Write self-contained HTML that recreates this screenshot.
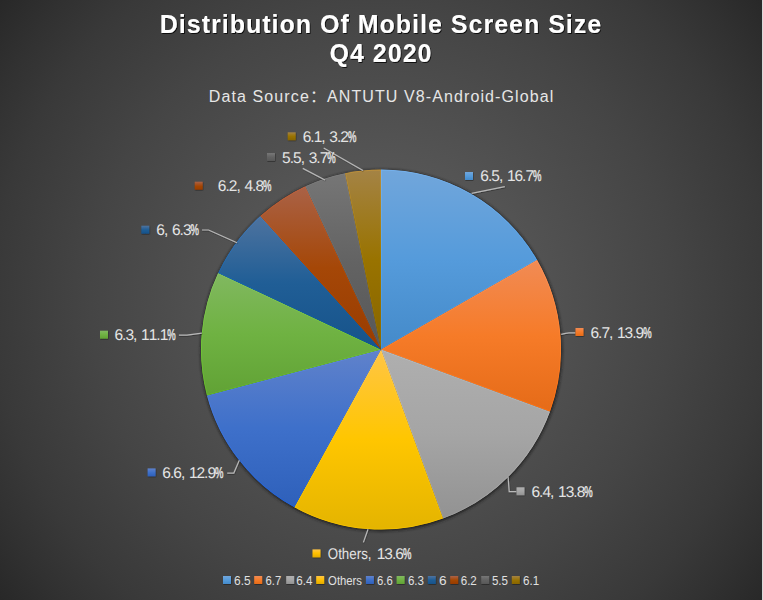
<!DOCTYPE html>
<html><head><meta charset="utf-8"><style>
html,body{margin:0;padding:0;background:#2b2b2b;}
body{width:763px;height:600px;overflow:hidden;position:relative;}
svg{position:absolute;left:0;top:0;display:block;}
.t{font-family:"Liberation Sans",Arial,sans-serif;font-weight:bold;font-size:25px;fill:#FFFFFF;letter-spacing:1.0px;}
.st{font-family:"Liberation Sans","Noto Sans CJK SC",sans-serif;font-size:16px;fill:#E6E6E6;letter-spacing:1.1px;}
.dl{font-family:"Liberation Sans",Arial,sans-serif;font-size:15.5px;text-rendering:geometricPrecision;fill:#E4E4E4;}
.pc{stroke:#E4E4E4;stroke-width:0.45px;}
.lg{font-family:"Liberation Sans",Arial,sans-serif;font-size:12px;fill:#E0E0E0;}
</style></head><body>
<svg width="763" height="600" viewBox="0 0 763 600">
<defs>
<radialGradient id="bg" gradientUnits="userSpaceOnUse" cx="381.5" cy="300" r="485">
<stop offset="0.0" stop-color="#606060"/><stop offset="0.1" stop-color="#5C5C5C"/><stop offset="0.2" stop-color="#585858"/><stop offset="0.3" stop-color="#545454"/><stop offset="0.4" stop-color="#4F4F4F"/><stop offset="0.5" stop-color="#4A4A4A"/><stop offset="0.6" stop-color="#454545"/><stop offset="0.7" stop-color="#3F3F3F"/><stop offset="0.8" stop-color="#393939"/><stop offset="0.9" stop-color="#313131"/><stop offset="1.0" stop-color="#282828"/>
</radialGradient>
<filter id="lsh" x="-20%" y="-20%" width="140%" height="140%"><feDropShadow dx="0.4" dy="0.6" stdDeviation="0.7" flood-color="#000" flood-opacity="0.55"/></filter>
<filter id="sh" x="-20%" y="-20%" width="140%" height="140%"><feGaussianBlur stdDeviation="1.5"/></filter>
<filter id="tsh" x="-5%" y="-20%" width="110%" height="140%"><feDropShadow dx="0.9" dy="1" stdDeviation="0.7" flood-color="#000" flood-opacity="0.8"/></filter>
<linearGradient id="g0" gradientUnits="userSpaceOnUse" x1="0" y1="169.6" x2="0" y2="349.6"><stop offset="0" stop-color="#71A6DB"/><stop offset="0.5" stop-color="#559BDB"/><stop offset="1" stop-color="#448AC9"/></linearGradient><linearGradient id="r0" gradientUnits="userSpaceOnUse" x1="0" y1="169.6" x2="0" y2="349.6"><stop offset="0" stop-color="#75B0EB"/><stop offset="0.5" stop-color="#55A5EE"/><stop offset="1" stop-color="#4193DC"/></linearGradient><clipPath id="c0"><path d="M381,349.6 L381.00,169.60 A180,180 0 0 1 537.07,259.93 Z"/></clipPath><linearGradient id="g1" gradientUnits="userSpaceOnUse" x1="0" y1="259.9" x2="0" y2="411.6"><stop offset="0" stop-color="#F18B55"/><stop offset="0.5" stop-color="#F67B28"/><stop offset="1" stop-color="#E56B18"/></linearGradient><linearGradient id="r1" gradientUnits="userSpaceOnUse" x1="0" y1="259.9" x2="0" y2="411.6"><stop offset="0" stop-color="#FF945B"/><stop offset="0.5" stop-color="#FF8330"/><stop offset="1" stop-color="#FF6F0D"/></linearGradient><clipPath id="c1"><path d="M381,349.6 L537.07,259.93 A180,180 0 0 1 549.97,411.64 Z"/></clipPath><linearGradient id="g2" gradientUnits="userSpaceOnUse" x1="0" y1="349.6" x2="0" y2="518.6"><stop offset="0" stop-color="#AFAFAF"/><stop offset="0.5" stop-color="#A5A5A5"/><stop offset="1" stop-color="#929292"/></linearGradient><linearGradient id="r2" gradientUnits="userSpaceOnUse" x1="0" y1="349.6" x2="0" y2="518.6"><stop offset="0" stop-color="#BABABA"/><stop offset="0.5" stop-color="#AFAFAF"/><stop offset="1" stop-color="#9B9B9B"/></linearGradient><clipPath id="c2"><path d="M381,349.6 L549.97,411.64 A180,180 0 0 1 443.04,518.57 Z"/></clipPath><linearGradient id="g3" gradientUnits="userSpaceOnUse" x1="0" y1="349.6" x2="0" y2="529.6"><stop offset="0" stop-color="#FFC546"/><stop offset="0.5" stop-color="#FFC600"/><stop offset="1" stop-color="#E4B400"/></linearGradient><linearGradient id="r3" gradientUnits="userSpaceOnUse" x1="0" y1="349.6" x2="0" y2="529.6"><stop offset="0" stop-color="#FFCB5A"/><stop offset="0.5" stop-color="#FFC90F"/><stop offset="1" stop-color="#F2BF00"/></linearGradient><clipPath id="c3"><path d="M381,349.6 L443.04,518.57 A180,180 0 0 1 294.28,507.34 Z"/></clipPath><linearGradient id="g4" gradientUnits="userSpaceOnUse" x1="0" y1="349.6" x2="0" y2="507.3"><stop offset="0" stop-color="#6082CB"/><stop offset="0.5" stop-color="#3E70CA"/><stop offset="1" stop-color="#2E60BA"/></linearGradient><linearGradient id="r4" gradientUnits="userSpaceOnUse" x1="0" y1="349.6" x2="0" y2="507.3"><stop offset="0" stop-color="#6288DB"/><stop offset="0.5" stop-color="#3B75DD"/><stop offset="1" stop-color="#1E60D8"/></linearGradient><clipPath id="c4"><path d="M381,349.6 L294.28,507.34 A180,180 0 0 1 206.94,395.46 Z"/></clipPath><linearGradient id="g5" gradientUnits="userSpaceOnUse" x1="0" y1="273.0" x2="0" y2="395.5"><stop offset="0" stop-color="#81B860"/><stop offset="0.5" stop-color="#6FB242"/><stop offset="1" stop-color="#61A235"/></linearGradient><linearGradient id="r5" gradientUnits="userSpaceOnUse" x1="0" y1="273.0" x2="0" y2="395.5"><stop offset="0" stop-color="#87C761"/><stop offset="0.5" stop-color="#73C939"/><stop offset="1" stop-color="#64BB29"/></linearGradient><clipPath id="c5"><path d="M381,349.6 L206.94,395.46 A180,180 0 0 1 218.13,272.96 Z"/></clipPath><linearGradient id="g6" gradientUnits="userSpaceOnUse" x1="0" y1="216.1" x2="0" y2="349.6"><stop offset="0" stop-color="#4E739F"/><stop offset="0.5" stop-color="#205E96"/><stop offset="1" stop-color="#16538A"/></linearGradient><linearGradient id="r6" gradientUnits="userSpaceOnUse" x1="0" y1="216.1" x2="0" y2="349.6"><stop offset="0" stop-color="#4879B3"/><stop offset="0.5" stop-color="#1265AF"/><stop offset="1" stop-color="#0859A1"/></linearGradient><clipPath id="c6"><path d="M381,349.6 L218.13,272.96 A180,180 0 0 1 260.28,216.09 Z"/></clipPath><linearGradient id="g7" gradientUnits="userSpaceOnUse" x1="0" y1="186.3" x2="0" y2="349.6"><stop offset="0" stop-color="#AA6247"/><stop offset="0.5" stop-color="#A54707"/><stop offset="1" stop-color="#983C00"/></linearGradient><linearGradient id="r7" gradientUnits="userSpaceOnUse" x1="0" y1="186.3" x2="0" y2="349.6"><stop offset="0" stop-color="#C1623F"/><stop offset="0.5" stop-color="#B64A00"/><stop offset="1" stop-color="#A14000"/></linearGradient><clipPath id="c7"><path d="M381,349.6 L260.28,216.09 A180,180 0 0 1 305.38,186.25 Z"/></clipPath><linearGradient id="g8" gradientUnits="userSpaceOnUse" x1="0" y1="173.2" x2="0" y2="349.6"><stop offset="0" stop-color="#767676"/><stop offset="0.5" stop-color="#636363"/><stop offset="1" stop-color="#575757"/></linearGradient><linearGradient id="r8" gradientUnits="userSpaceOnUse" x1="0" y1="173.2" x2="0" y2="349.6"><stop offset="0" stop-color="#7D7D7D"/><stop offset="0.5" stop-color="#696969"/><stop offset="1" stop-color="#5C5C5C"/></linearGradient><clipPath id="c8"><path d="M381,349.6 L305.38,186.25 A180,180 0 0 1 345.05,173.23 Z"/></clipPath><linearGradient id="g9" gradientUnits="userSpaceOnUse" x1="0" y1="169.6" x2="0" y2="349.6"><stop offset="0" stop-color="#A48345"/><stop offset="0.5" stop-color="#997300"/><stop offset="1" stop-color="#876500"/></linearGradient><linearGradient id="r9" gradientUnits="userSpaceOnUse" x1="0" y1="169.6" x2="0" y2="349.6"><stop offset="0" stop-color="#BB8F3C"/><stop offset="0.5" stop-color="#A27A00"/><stop offset="1" stop-color="#8F6B00"/></linearGradient><clipPath id="c9"><path d="M381,349.6 L345.05,173.23 A180,180 0 0 1 381.00,169.60 Z"/></clipPath>
<linearGradient id="sq_0" x1="0" y1="0" x2="0" y2="1"><stop offset="0" stop-color="#71A6DB"/><stop offset="0.5" stop-color="#559BDB"/><stop offset="1" stop-color="#448AC9"/></linearGradient><linearGradient id="sq_1" x1="0" y1="0" x2="0" y2="1"><stop offset="0" stop-color="#F18B55"/><stop offset="0.5" stop-color="#F67B28"/><stop offset="1" stop-color="#E56B18"/></linearGradient><linearGradient id="sq_2" x1="0" y1="0" x2="0" y2="1"><stop offset="0" stop-color="#AFAFAF"/><stop offset="0.5" stop-color="#A5A5A5"/><stop offset="1" stop-color="#929292"/></linearGradient><linearGradient id="sq_3" x1="0" y1="0" x2="0" y2="1"><stop offset="0" stop-color="#FFC546"/><stop offset="0.5" stop-color="#FFC000"/><stop offset="1" stop-color="#E2AA00"/></linearGradient><linearGradient id="sq_4" x1="0" y1="0" x2="0" y2="1"><stop offset="0" stop-color="#6082CB"/><stop offset="0.5" stop-color="#3E70CA"/><stop offset="1" stop-color="#2E60BA"/></linearGradient><linearGradient id="sq_5" x1="0" y1="0" x2="0" y2="1"><stop offset="0" stop-color="#81B860"/><stop offset="0.5" stop-color="#6FB242"/><stop offset="1" stop-color="#61A235"/></linearGradient><linearGradient id="sq_6" x1="0" y1="0" x2="0" y2="1"><stop offset="0" stop-color="#4E739F"/><stop offset="0.5" stop-color="#205E96"/><stop offset="1" stop-color="#16538A"/></linearGradient><linearGradient id="sq_7" x1="0" y1="0" x2="0" y2="1"><stop offset="0" stop-color="#AA6247"/><stop offset="0.5" stop-color="#A54707"/><stop offset="1" stop-color="#983C00"/></linearGradient><linearGradient id="sq_8" x1="0" y1="0" x2="0" y2="1"><stop offset="0" stop-color="#767676"/><stop offset="0.5" stop-color="#636363"/><stop offset="1" stop-color="#575757"/></linearGradient><linearGradient id="sq_9" x1="0" y1="0" x2="0" y2="1"><stop offset="0" stop-color="#A48345"/><stop offset="0.5" stop-color="#997300"/><stop offset="1" stop-color="#876500"/></linearGradient>
</defs>
<rect width="763" height="600" fill="url(#bg)"/>
<rect x="762" y="0" width="1" height="600" fill="#D9D9D9"/>
<g filter="url(#tsh)">
<text x="381" y="32.5" text-anchor="middle" class="t">Distribution Of Mobile Screen Size</text>
<text x="381" y="62.2" text-anchor="middle" class="t" style="letter-spacing:1.0px">Q4 2020</text>
</g>
<text x="381.6" y="102.3" text-anchor="middle" class="st">Data Source：ANTUTU V8-Android-Global</text>
<circle cx="381.4" cy="350.40000000000003" r="180.8" fill="#1A1A1A" opacity="0.9" filter="url(#sh)"/>
<path d="M381,349.6 L381.00,169.60 A180,180 0 0 1 537.07,259.93 Z" fill="url(#g0)" stroke="url(#r0)" stroke-width="1.7" clip-path="url(#c0)"/><path d="M381,349.6 L537.07,259.93 A180,180 0 0 1 549.97,411.64 Z" fill="url(#g1)" stroke="url(#r1)" stroke-width="1.7" clip-path="url(#c1)"/><path d="M381,349.6 L549.97,411.64 A180,180 0 0 1 443.04,518.57 Z" fill="url(#g2)" stroke="url(#r2)" stroke-width="1.7" clip-path="url(#c2)"/><path d="M381,349.6 L443.04,518.57 A180,180 0 0 1 294.28,507.34 Z" fill="url(#g3)" stroke="url(#r3)" stroke-width="1.7" clip-path="url(#c3)"/><path d="M381,349.6 L294.28,507.34 A180,180 0 0 1 206.94,395.46 Z" fill="url(#g4)" stroke="url(#r4)" stroke-width="1.7" clip-path="url(#c4)"/><path d="M381,349.6 L206.94,395.46 A180,180 0 0 1 218.13,272.96 Z" fill="url(#g5)" stroke="url(#r5)" stroke-width="1.7" clip-path="url(#c5)"/><path d="M381,349.6 L218.13,272.96 A180,180 0 0 1 260.28,216.09 Z" fill="url(#g6)" stroke="url(#r6)" stroke-width="1.7" clip-path="url(#c6)"/><path d="M381,349.6 L260.28,216.09 A180,180 0 0 1 305.38,186.25 Z" fill="url(#g7)" stroke="url(#r7)" stroke-width="1.7" clip-path="url(#c7)"/><path d="M381,349.6 L305.38,186.25 A180,180 0 0 1 345.05,173.23 Z" fill="url(#g8)" stroke="url(#r8)" stroke-width="1.7" clip-path="url(#c8)"/><path d="M381,349.6 L345.05,173.23 A180,180 0 0 1 381.00,169.60 Z" fill="url(#g9)" stroke="url(#r9)" stroke-width="1.7" clip-path="url(#c9)"/>
<g fill="none" stroke="#B8B8B8" stroke-width="1.2" filter="url(#lsh)"><path d="M471.6,193.4 L504.8,186.7"/><path d="M561.2,334.4 Q566,332.8 569,332.8 L575.5,332.8"/><path d="M508.1,477.1 L509.2,491.7 L516.5,491.7"/><path d="M368,529.2 L363.4,542.4"/><path d="M239.3,460.2 L233.8,473.1 L227.2,473.1"/><path d="M201.8,333.1 L187,335.2 L178.9,335.2"/><path d="M237,242.7 L208.6,230 L202,230"/><path d="M323.7,148 L363,170.6"/><path d="M302.8,168.4 L325,180"/></g>
<g filter="url(#lsh)"><rect x="465" y="172" width="8" height="8" fill="url(#sq_0)"/><rect x="575.5" y="328" width="8" height="8" fill="url(#sq_1)"/><rect x="516.5" y="487.3" width="8" height="8" fill="url(#sq_2)"/><rect x="312.5" y="549.4" width="8" height="8" fill="url(#sq_3)"/><rect x="147.6" y="468.4" width="8" height="8" fill="url(#sq_4)"/><rect x="100" y="330.7" width="8" height="8" fill="url(#sq_5)"/><rect x="141.3" y="225.7" width="8" height="8" fill="url(#sq_6)"/><rect x="194.7" y="181.7" width="8" height="8" fill="url(#sq_7)"/><rect x="267" y="153" width="8" height="8" fill="url(#sq_8)"/><rect x="287.7" y="132.3" width="8" height="8" fill="url(#sq_9)"/></g>
<text x="480.30 487.90 491.30 498.90 502.30 506.90 514.50 522.10 525.50" y="181.3" class="dl">6.5, 16.7</text><text transform="translate(533.10,181.3) scale(0.61,1)" class="dl pc">%</text><text x="590.40 598.00 601.40 609.00 612.40 617.00 624.60 632.20 635.60" y="337.5" class="dl">6.7, 13.9</text><text transform="translate(643.20,337.5) scale(0.61,1)" class="dl pc">%</text><text x="531.50 539.10 542.50 550.10 553.50 558.10 565.70 573.30 576.70" y="497" class="dl">6.4, 13.8</text><text transform="translate(584.30,497) scale(0.61,1)" class="dl pc">%</text><text x="327.80" y="558.5" class="dl" textLength="43.70" lengthAdjust="spacingAndGlyphs">Others,</text><text x="376.72 384.32 391.92 395.32" y="558.5" class="dl">13.6</text><text transform="translate(402.92,558.5) scale(0.61,1)" class="dl pc">%</text><text x="162.30 169.90 173.30 180.90 184.30 188.90 196.50 204.10 207.50" y="477.8" class="dl">6.6, 12.9</text><text transform="translate(215.10,477.8) scale(0.61,1)" class="dl pc">%</text><text x="114.50 122.10 125.50 133.10 136.50 141.10 148.70 156.30 159.70" y="339.9" class="dl">6.3, 11.1</text><text transform="translate(167.30,339.9) scale(0.61,1)" class="dl pc">%</text><text x="156.30 163.90 167.30 171.90 179.50 182.90" y="234.7" class="dl">6, 6.3</text><text transform="translate(190.50,234.7) scale(0.61,1)" class="dl pc">%</text><text x="217.80 225.40 228.80 236.40 239.80 244.40 252.00 255.40" y="190.9" class="dl">6.2, 4.8</text><text transform="translate(263.00,190.9) scale(0.61,1)" class="dl pc">%</text><text x="282.10 289.70 293.10 300.70 304.10 308.70 316.30 319.70" y="162.8" class="dl">5.5, 3.7</text><text transform="translate(327.30,162.8) scale(0.61,1)" class="dl pc">%</text><text x="302.70 310.30 313.70 321.30 324.70 329.30 336.90 340.30" y="141.7" class="dl">6.1, 3.2</text><text transform="translate(347.90,141.7) scale(0.61,1)" class="dl pc">%</text>
<g filter="url(#lsh)"><rect x="223" y="576" width="8" height="8" fill="url(#sq_0)"/><rect x="254.2" y="576" width="8" height="8" fill="url(#sq_1)"/><rect x="286.2" y="576" width="8" height="8" fill="url(#sq_2)"/><rect x="316.2" y="576" width="8" height="8" fill="url(#sq_3)"/><rect x="365.9" y="576" width="8" height="8" fill="url(#sq_4)"/><rect x="396.6" y="576" width="8" height="8" fill="url(#sq_5)"/><rect x="427.8" y="576" width="8" height="8" fill="url(#sq_6)"/><rect x="450.2" y="576" width="8" height="8" fill="url(#sq_7)"/><rect x="481.2" y="576" width="8" height="8" fill="url(#sq_8)"/><rect x="511.8" y="576" width="8" height="8" fill="url(#sq_9)"/></g>
<text x="234.10" y="584.6" class="lg" textLength="16.60" lengthAdjust="spacingAndGlyphs">6.5</text><text x="265.50" y="584.6" class="lg" textLength="15.70" lengthAdjust="spacingAndGlyphs">6.7</text><text x="296.20" y="584.6" class="lg" textLength="16.20" lengthAdjust="spacingAndGlyphs">6.4</text><text x="328.10" y="584.6" class="lg" textLength="33.90" lengthAdjust="spacingAndGlyphs">Others</text><text x="377.10" y="584.6" class="lg" textLength="15.70" lengthAdjust="spacingAndGlyphs">6.6</text><text x="407.90" y="584.6" class="lg" textLength="16.10" lengthAdjust="spacingAndGlyphs">6.3</text><text x="439.10" y="584.6" class="lg" textLength="7.60" lengthAdjust="spacingAndGlyphs">6</text><text x="460.70" y="584.6" class="lg" textLength="16.10" lengthAdjust="spacingAndGlyphs">6.2</text><text x="491.90" y="584.6" class="lg" textLength="16.10" lengthAdjust="spacingAndGlyphs">5.5</text><text x="523.10" y="584.6" class="lg" textLength="16.10" lengthAdjust="spacingAndGlyphs">6.1</text>
</svg>
</body></html>
